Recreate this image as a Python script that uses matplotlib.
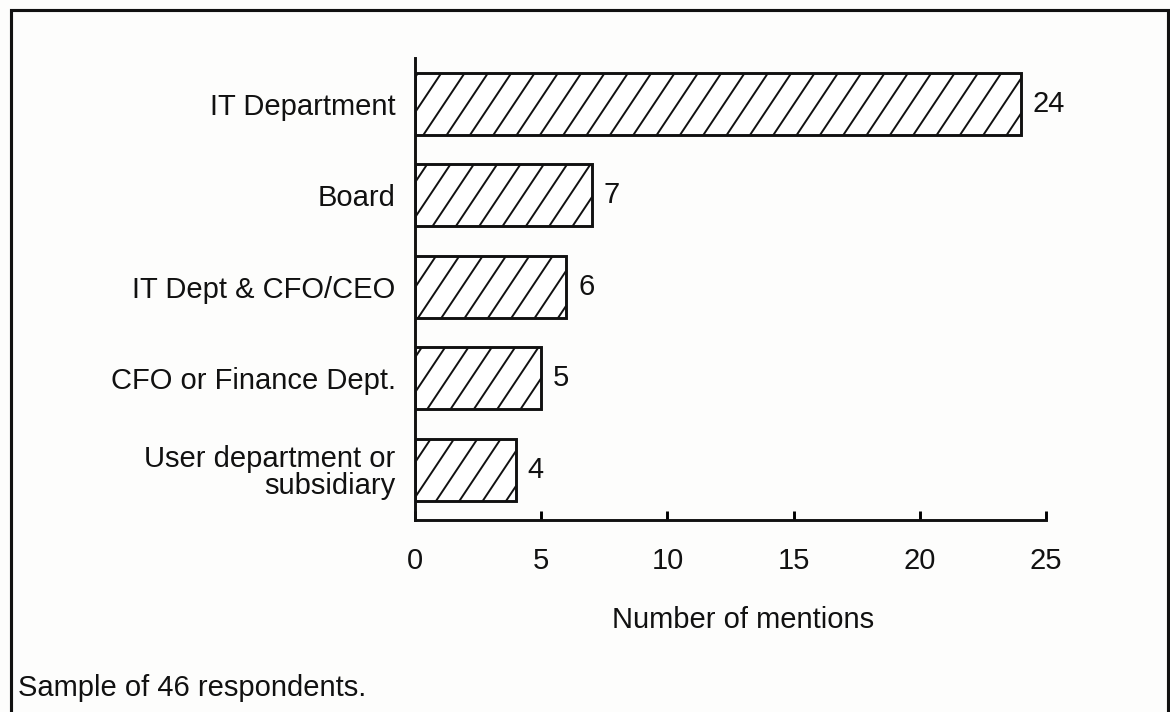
import numpy as np
import matplotlib.pyplot as plt
import matplotlib.hatch as mhatch
from matplotlib.path import Path
from matplotlib.patches import Rectangle

categories = ["IT Department", "Board", "IT Dept & CFO/CEO",
              "CFO or Finance Dept.", "User department or\nsubsidiary"]
mentions = [24, 7, 6, 5, 4]
x_ticks = [0, 5, 10, 15, 20, 25]

plt.rcParams["font.family"] = ["Liberation Sans", "DejaVu Sans"]
plt.rcParams["hatch.linewidth"] = 1.0


# the scan uses steeper diagonals than the 45 degree '/' hatch,
# so make '/' draw lines with slope 1.5 that still tile the unit cell
class SteepHatch(mhatch.HatchPatternBase):
    def __init__(self, hatch, density):
        n = hatch.count("/")
        self.offsets = np.arange(-4, 7) / 6.0 if n else np.array([])
        self.num_vertices = 2 * len(self.offsets)

    def set_vertices_and_codes(self, vertices, codes):
        c = self.offsets
        run = 2.0 / 3.0
        vertices[0::2, 0] = c - 0.1 * run
        vertices[0::2, 1] = -0.1
        vertices[1::2, 0] = c + 1.1 * run
        vertices[1::2, 1] = 1.1
        codes[0::2] = Path.MOVETO
        codes[1::2] = Path.LINETO


mhatch._hatch_types = [SteepHatch if h is mhatch.NorthEastHatch else h
                       for h in mhatch._hatch_types]

# dpi 140 so the hatch spacing comes out wide like the scanned original
DPI = 140
FS = 15
INK = "#111111"
fig = plt.figure(figsize=(1170 / DPI, 712 / DPI), dpi=DPI)
fig.patch.set_facecolor("#fdfdfc")

ax = fig.add_axes([415 / 1170, 1 - 520 / 712, 631 / 1170, 462 / 712])
ax.set_facecolor("none")

pos = list(range(len(categories)))
bars = ax.barh(pos, mentions, height=0.68, color="white", edgecolor=INK,
               linewidth=1.5, hatch="/")
ax.bar_label(bars, labels=[str(v) for v in mentions], padding=6,
             fontsize=FS, color=INK)

ax.set_yticks(pos)
ax.set_yticklabels(categories)
for lbl in ax.get_yticklabels():
    lbl.set_linespacing(0.95)
ax.set_ylim(len(categories) - 0.45, -0.5)
ax.set_xlim(0, 25)
ax.set_xticks(x_ticks)

ax.tick_params(axis="y", length=0, pad=10, labelsize=FS, labelcolor=INK)
ax.tick_params(axis="x", direction="in", length=4.5, width=1.5, pad=14,
               labelsize=FS, labelcolor=INK)
ax.set_xlabel("Number of mentions", fontsize=FS, color=INK, labelpad=16)
ax.xaxis.label.set_x(0.52)

for side in ["top", "right"]:
    ax.spines[side].set_visible(False)
for side in ["left", "bottom"]:
    ax.spines[side].set_linewidth(1.5)
    ax.spines[side].set_color(INK)

# outer frame of the scanned page (bottom edge is cut off)
frame = Rectangle((11 / 1170, -0.05), 1157 / 1170, 1.05 - 10 / 712,
                  transform=fig.transFigure, fill=False, edgecolor=INK,
                  linewidth=1.6, clip_on=False)
fig.patches.append(frame)

fig.text(18 / 1170, 1 - 688 / 712, "Sample of 46 respondents.", fontsize=FS,
         color=INK, ha="left", va="center")

fig.savefig("out.png", dpi=DPI, facecolor=fig.get_facecolor())
